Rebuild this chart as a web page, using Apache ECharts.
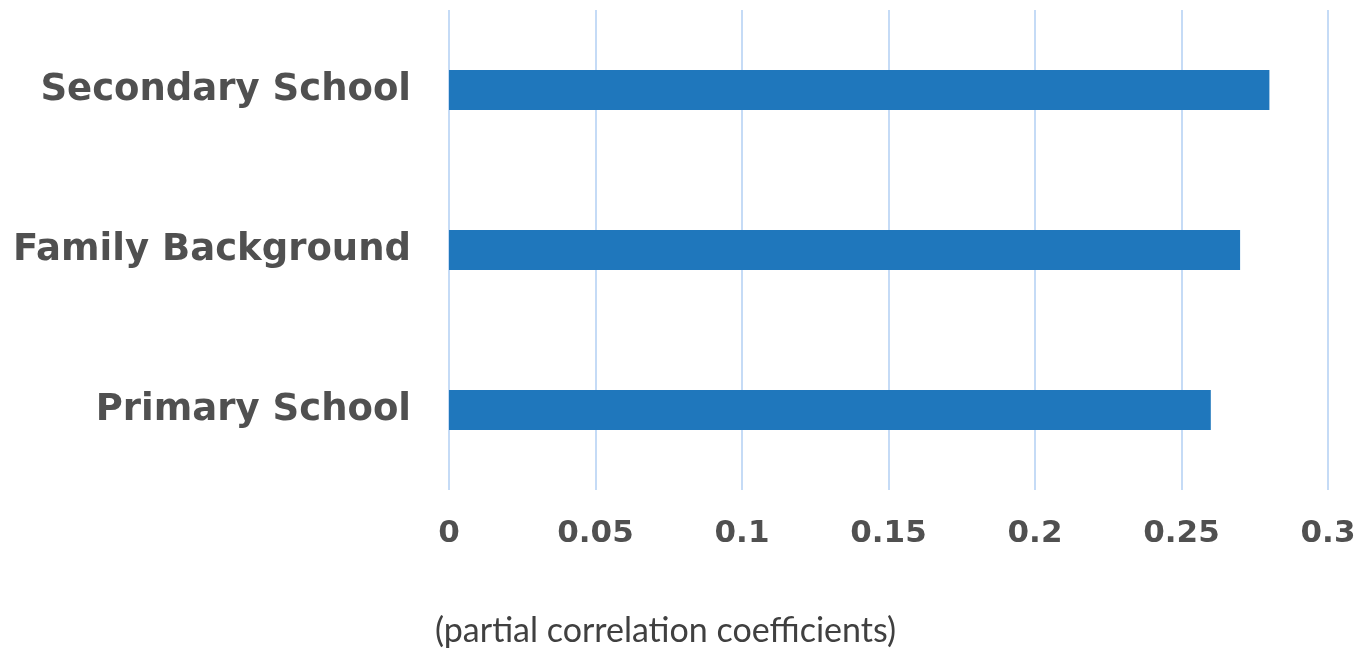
<!DOCTYPE html>
<html>
<head>
<meta charset="utf-8">
<script src="https://cdn.jsdelivr.net/npm/echarts@6/dist/echarts.min.js"></script>
<style>
  html, body { margin: 0; padding: 0; background: #fff; }
  #chart { width: 1362px; height: 650px; }
</style>
</head>
<body>
<div id="chart"></div>
<script>
// categories bottom -> top (category axis on y starts from bottom)
const categories = ["Primary School", "Family Background", "Secondary School"];
const coefficients = [0.26, 0.27, 0.28];
const axisTitle = "(partial correlation coefficients)";

const labelFont = "'DejaVu Sans', Verdana, sans-serif";

const chart = echarts.init(document.getElementById("chart"));

const option = {
  animation: false,
  grid: {
    left: 449,
    right: 34,
    top: 10,
    bottom: 160,
    containLabel: false,
  },
  title: {
    text: axisTitle,
    left: 430,
    top: 609,
    textStyle: {
      fontFamily: "Lato",
      fontWeight: "normal",
      fontSize: 34,
      color: "#404040",
    },
  },
  xAxis: {
    type: "value",
    min: 0,
    max: 0.3,
    interval: 0.05,
    axisLine: { show: false },
    axisTick: { show: false },
    splitLine: {
      lineStyle: { color: "#c5dbf6", width: 2 },
    },
    axisLabel: {
      margin: 28,
      color: "#505050",
      fontFamily: labelFont,
      fontWeight: "bold",
      fontSize: 31,
    },
  },
  yAxis: {
    type: "category",
    data: categories,
    axisLine: { show: false },
    axisTick: { show: false },
    axisLabel: {
      margin: 38,
      color: "#505050",
      fontFamily: labelFont,
      fontWeight: "bold",
      fontSize: 37,
    },
  },
  series: [
    {
      type: "bar",
      data: coefficients,
      barWidth: 40,
      itemStyle: { color: "#1f77bc" },
    },
  ],
};

chart.setOption(option);
</script>
</body>
</html>
